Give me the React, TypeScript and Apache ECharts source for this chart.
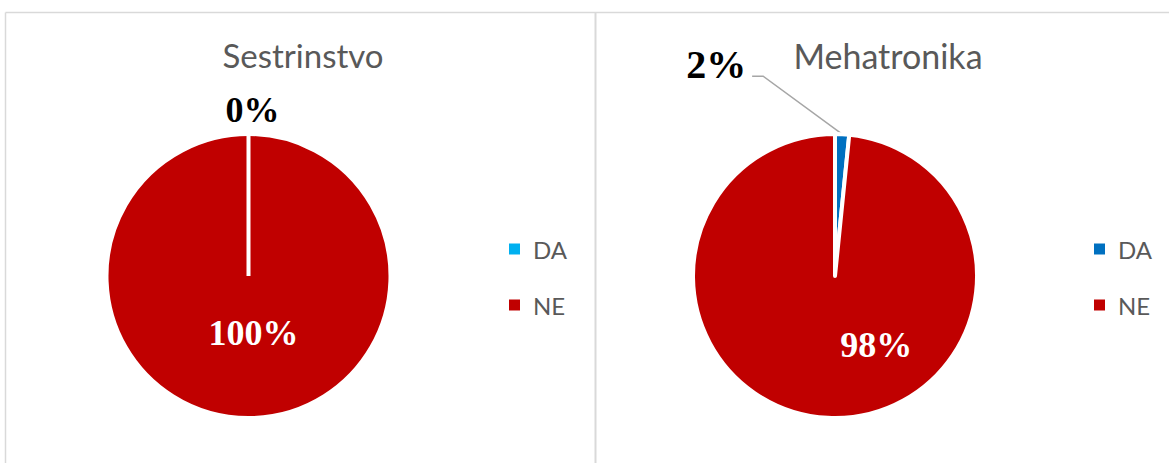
import React, { useEffect, useRef } from 'react';
import * as echarts from 'echarts';

const categories = ['DA', 'NE'];
const chartTitles = ['Sestrinstvo', 'Mehatronika'];
const sestrinstvoValues = [0, 100];
const mehatronikaValues = [1.6, 98.4];
const sestrinstvoColors = ['#00B0F0', '#C00000'];
const mehatronikaColors = ['#0070C0', '#C00000'];

const W = 1169;
const H = 463;
const R = 142;
const CY = 276;
const leftCenter = [248.5, CY];
const rightCenter = [835, CY];
const SERIF = '"Liberation Serif", "Times New Roman", serif';
const SANS = 'Lato, "Open Sans", sans-serif';
const GRAY = '#595959';
const BORDER = '#d9d9d9';

const pctFormatter = (p: any) => Math.round(p.percent) + '%';

function buildPie(
  name: string,
  values: number[],
  colors: string[],
  center: number[],
  insideOffset: number[],
  outsideFont: number,
  layoutFn: (params: any) => any
) {
  return {
    type: 'pie',
    name,
    center,
    radius: R,
    startAngle: 90,
    clockwise: true,
    avoidLabelOverlap: false,
    silent: true,
    z: 2,
    itemStyle: { borderColor: '#ffffff', borderWidth: 4 },
    labelLayout: layoutFn,
    data: categories.map((cat, i) => ({
      name: cat,
      value: values[i],
      itemStyle: { color: colors[i] },
      label:
        i === 0
          ? {
              show: true,
              position: 'outside',
              formatter: pctFormatter,
              fontFamily: SERIF,
              fontWeight: 'bold',
              fontSize: outsideFont,
              color: '#000000',
            }
          : {
              show: true,
              position: 'inside',
              formatter: pctFormatter,
              fontFamily: SERIF,
              fontWeight: 'bold',
              fontSize: 36,
              color: '#ffffff',
              offset: insideOffset,
            },
      labelLine: { show: true, length: 10, length2: 10, lineStyle: { color: '#a6a6a6', width: 1.5 } },
    })),
  };
}

function legendFor(colors: string[], left: number) {
  return {
    orient: 'vertical',
    left,
    top: 237,
    padding: 0,
    itemWidth: 13,
    itemHeight: 13,
    itemGap: 32,
    icon: 'rect',
    selectedMode: false,
    textStyle: {
      fontFamily: SANS,
      fontSize: 24,
      lineHeight: 24,
      color: GRAY,
      padding: [0, 0, 0, 7],
    },
    data: categories.map((cat, i) => ({ name: cat, itemStyle: { color: colors[i] } })),
  };
}

export default function App() {
  const ref = useRef<HTMLDivElement>(null);

  useEffect(() => {
    if (!ref.current) return;
    const chart = echarts.init(ref.current, undefined, { renderer: 'svg' });

    const leftLayout = (params: any) => {
      if (params.dataIndex !== 0) return {};
      const a = params.labelLinePoints ? params.labelLinePoints[0] : [leftCenter[0], CY - R];
      return {
        x: a[0] + 4,
        y: a[1] - 24,
        align: 'center',
        verticalAlign: 'middle',
        labelLinePoints: [a, a, a],
      };
    };

    const rightLayout = (params: any) => {
      if (params.dataIndex !== 0) return {};
      const a = params.labelLinePoints[0];
      return {
        x: a[0] - 96,
        y: a[1] - 70,
        align: 'right',
        verticalAlign: 'middle',
        labelLinePoints: [
          [a[0], a[1]],
          [a[0] - 79, a[1] - 58],
          [a[0] - 90, a[1] - 58],
        ],
      };
    };

    // zero-width DA slice boundary in the left pie (slice edge at the start angle)
    const zeroEdge = {
      type: 'line',
      z: 10,
      silent: true,
      shape: { x1: leftCenter[0], y1: CY, x2: leftCenter[0], y2: CY - R },
      style: { stroke: '#ffffff', lineWidth: 4 },
    };

    const option: any = {
      animation: false,
      backgroundColor: '#ffffff',
      title: [
        {
          text: chartTitles[0],
          left: 298,
          top: 33,
          textAlign: 'center',
          textStyle: { fontFamily: SANS, fontSize: 33, fontWeight: 'normal', color: GRAY },
        },
        {
          text: chartTitles[1],
          left: 883,
          top: 33,
          textAlign: 'center',
          textStyle: { fontFamily: SANS, fontSize: 34, fontWeight: 'normal', color: GRAY },
        },
      ],
      legend: [legendFor(sestrinstvoColors, 507), legendFor(mehatronikaColors, 1092)],
      graphic: [
        { type: 'line', shape: { x1: 5.5, y1: 12.5, x2: W, y2: 12.5 }, style: { stroke: BORDER, lineWidth: 1.5 }, silent: true },
        { type: 'line', shape: { x1: 5.5, y1: 12.5, x2: 5.5, y2: H }, style: { stroke: BORDER, lineWidth: 1.5 }, silent: true },
        { type: 'line', shape: { x1: 595.5, y1: 12.5, x2: 595.5, y2: H }, style: { stroke: BORDER, lineWidth: 2 }, silent: true },
        zeroEdge,
      ],
      series: [
        buildPie('Sestrinstvo', sestrinstvoValues, sestrinstvoColors, leftCenter, [5, -17], 36, leftLayout),
        buildPie('Mehatronika', mehatronikaValues, mehatronikaColors, rightCenter, [45, -5], 40, rightLayout),
      ],
    };

    chart.setOption(option);
    return () => chart.dispose();
  }, []);

  return (
    <div
      ref={ref}
      style={{ position: 'absolute', left: 0, top: 0, width: W, height: H }}
    />
  );
}
